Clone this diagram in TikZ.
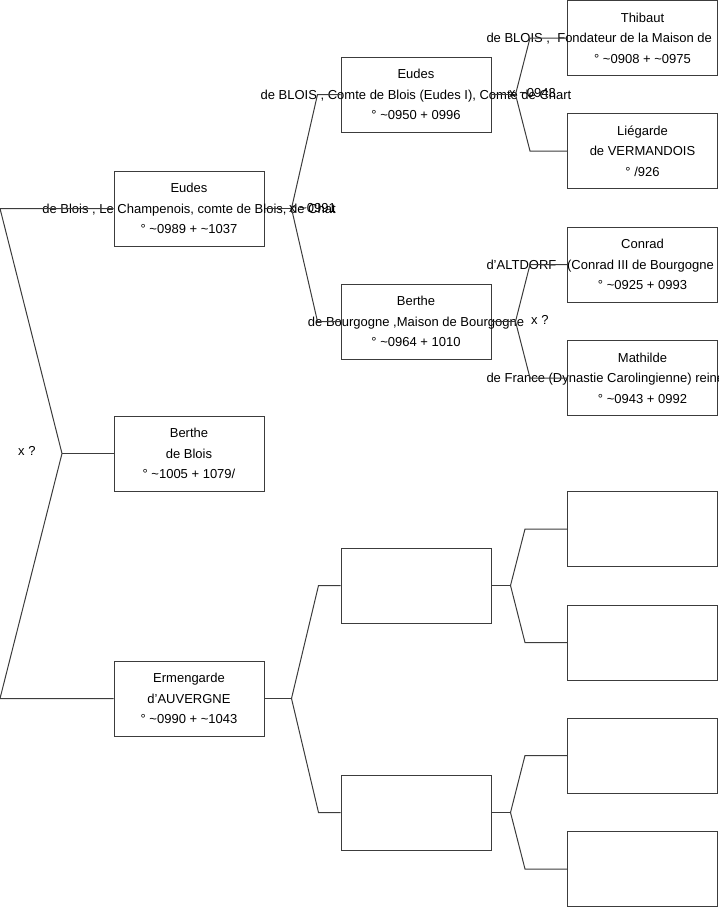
\documentclass[tikz,border=0pt]{standalone}
\usepackage{fontspec}
\setmainfont{Liberation Sans}
\usetikzlibrary{positioning}
\definecolor{lineGray}{RGB}{60,60,60}

\tikzset{
  personbox/.style={draw=lineGray, line width=1pt, minimum width=150pt, minimum height=75pt,
    inner sep=0pt, align=center, font=\fontsize{13}{20.5}\selectfont},
  marriage/.style={inner sep=0pt, anchor=west, font=\fontsize{13}{15}\selectfont},
  branch/.style={draw=lineGray, line width=1pt},
}
% long lines run out of the box, centred on it
\newcommand{\wide}[1]{\makebox[0pt]{#1}}
\newcommand{\cutwide}[1]{\makebox[0pt]{\makebox[312pt][l]{#1}}}

\begin{document}
\begin{tikzpicture}[x=1pt,y=-1pt]
  \useasboundingbox (0,0) rectangle (719,908);

  % generation 1
  \node[personbox] (eudes1) at (189,208.5)
    {Eudes\\\wide{de Blois , Le Champenois, comte de Blois, de Chat}\\° \textasciitilde0989 + \textasciitilde1037};
  \node[personbox] (berthe1) at (189,453.5)
    {Berthe\\de Blois\\° \textasciitilde1005 + 1079/};
  \node[personbox] (ermengarde1) at (189,698.5)
    {Ermengarde\\d'AUVERGNE\\° \textasciitilde0990 + \textasciitilde1043};

  % generation 2
  \node[personbox] (eudes2) at (416,94.5)
    {Eudes\\\wide{de BLOIS , Comte de Blois (Eudes I), Comte de Chart}\\° \textasciitilde0950 + 0996};
  \node[personbox] (berthe2) at (416,321.5)
    {Berthe\\\wide{de Bourgogne ,Maison de Bourgogne}\\° \textasciitilde0964 + 1010};
  \node[personbox] (empty2a) at (416,585.5) {};
  \node[personbox] (empty2b) at (416,812.5) {};

  % generation 3
  \node[personbox] (thibaut3) at (642.5,38)
    {Thibaut\\\cutwide{de BLOIS ,\ \ Fondateur de la Maison de}\\° \textasciitilde0908 + \textasciitilde0975};
  \node[personbox] (liegarde3) at (642.5,151)
    {Liégarde\\de VERMANDOIS\\° /926};
  \node[personbox] (conrad3) at (642.5,264.5)
    {Conrad\\\cutwide{d'ALTDORF\ \ \ (Conrad III de Bourgogne}\\° \textasciitilde0925 + 0993};
  \node[personbox] (mathilde3) at (642.5,378)
    {Mathilde\\\cutwide{de France (Dynastie Carolingienne) reine}\\° \textasciitilde0943 + 0992};
  \node[personbox] (empty3a) at (642.5,529) {};
  \node[personbox] (empty3b) at (642.5,642.5) {};
  \node[personbox] (empty3c) at (642.5,755.5) {};
  \node[personbox] (empty3d) at (642.5,869) {};

  % forks
  \coordinate (rootTop) at (0,208.5);
  \coordinate (rootBot) at (0,698.5);
  \coordinate (rootFork) at (62,453.5);
  \coordinate (forkEudes1) at ([xshift=27pt]eudes1.east);
  \coordinate (forkErm1) at ([xshift=27pt]ermengarde1.east);
  \coordinate (forkEudes2) at ([xshift=24pt]eudes2.east);
  \coordinate (forkBerthe2) at ([xshift=24pt]berthe2.east);
  \coordinate (forkEmpty2a) at ([xshift=19pt]empty2a.east);
  \coordinate (forkEmpty2b) at ([xshift=19pt]empty2b.east);

  \draw[branch] (eudes1.west) -- (rootTop) -- (rootFork) -- (rootBot) -- (ermengarde1.west);
  \draw[branch] (rootFork) -- (berthe1.west);

  \draw[branch] (eudes1.east) -- (forkEudes1);
  \draw[branch] (forkEudes1) -- ([xshift=-23pt]eudes2.west) -- (eudes2.west);
  \draw[branch] (forkEudes1) -- ([xshift=-23pt]berthe2.west) -- (berthe2.west);
  \draw[branch] (ermengarde1.east) -- (forkErm1);
  \draw[branch] (forkErm1) -- ([xshift=-22pt]empty2a.west) -- (empty2a.west);
  \draw[branch] (forkErm1) -- ([xshift=-22pt]empty2b.west) -- (empty2b.west);

  \draw[branch] (eudes2.east) -- (forkEudes2);
  \draw[branch] (forkEudes2) -- ([xshift=-37pt]thibaut3.west) -- (thibaut3.west);
  \draw[branch] (forkEudes2) -- ([xshift=-37pt]liegarde3.west) -- (liegarde3.west);
  \draw[branch] (berthe2.east) -- (forkBerthe2);
  \draw[branch] (forkBerthe2) -- ([xshift=-37pt]conrad3.west) -- (conrad3.west);
  \draw[branch] (forkBerthe2) -- ([xshift=-37pt]mathilde3.west) -- (mathilde3.west);
  \draw[branch] (empty2a.east) -- (forkEmpty2a);
  \draw[branch] (forkEmpty2a) -- ([xshift=-42pt]empty3a.west) -- (empty3a.west);
  \draw[branch] (forkEmpty2a) -- ([xshift=-42pt]empty3b.west) -- (empty3b.west);
  \draw[branch] (empty2b.east) -- (forkEmpty2b);
  \draw[branch] (forkEmpty2b) -- ([xshift=-42pt]empty3c.west) -- (empty3c.west);
  \draw[branch] (forkEmpty2b) -- ([xshift=-42pt]empty3d.west) -- (empty3d.west);

  % marriages
  \node[marriage] (marRoot) at (18,451) {x ?};
  \node[marriage] (marEudes1) at (289,208.5) {x \textasciitilde0991};
  \node[marriage] (marEudes2) at (509,93) {x \textasciitilde0943};
  \node[marriage] (marBerthe2) at (531,320) {x ?};
\end{tikzpicture}
\end{document}
